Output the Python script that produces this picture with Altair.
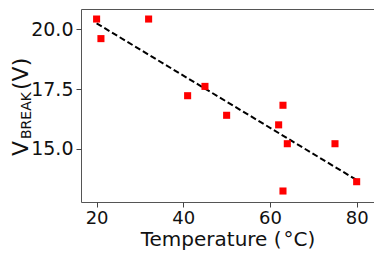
import altair as alt
import pandas as pd

temps = [20, 21, 32, 41, 45, 50, 62, 63, 64, 75, 80, 63]
vbreak = [20.43, 19.61, 20.43, 17.22, 17.61, 16.40, 16.00, 16.82, 15.21, 15.21, 13.62, 13.23]
fit_t = [20, 80]
fit_v = [20.25, 13.69]
x_ticks = [20, 40, 60, 80]
y_ticks = [15.0, 17.5, 20.0]
ylab_main = ["V"]
ylab_sub = ["BREAK"]
ylab_unit = ["(V)"]

pts = pd.DataFrame({"t": temps, "v": vbreak})
fit = pd.DataFrame({"t": fit_t, "v": fit_v})

FONT = "DejaVu Sans"
xs = alt.Scale(domain=[16.4, 84.0], nice=False, zero=False)
ys = alt.Scale(domain=[12.77, 20.85], nice=False, zero=False)

xax = alt.Axis(values=x_ticks, title="Temperature (\u200a\u00b0C)", grid=False,
               domain=False, tickColor="#444", tickSize=5, labelPadding=2,
               labelFontSize=18, titleFontSize=20, titleFont=FONT, labelFont=FONT,
               labelColor="#111", titleColor="#111", titleFontWeight="normal",
               titlePadding=2, format="d")
yax = alt.Axis(values=y_ticks, title=None, grid=False, domain=False,
               tickColor="#444", tickSize=5, labelPadding=3, labelFontSize=19,
               labelFont=FONT, labelColor="#111", format=".1f")

line = alt.Chart(fit).mark_line(color="black", strokeWidth=2, strokeDash=[6, 3]).encode(
    x=alt.X("t:Q", scale=xs, axis=xax),
    y=alt.Y("v:Q", scale=ys, axis=yax),
)
points = alt.Chart(pts).mark_square(color="#ff0000", opacity=1, size=50).encode(
    x=alt.X("t:Q", scale=xs),
    y=alt.Y("v:Q", scale=ys),
)

def ytext(vals, size, xpix, ypix):
    return alt.Chart(pd.DataFrame({"s": vals})).mark_text(
        angle=270, align="left", baseline="alphabetic", fontSize=size,
        font=FONT, color="#111").encode(
        x=alt.value(xpix), y=alt.value(ypix), text="s:N")

t1 = ytext(ylab_main, 22, -53, 147)
t2 = ytext(ylab_sub, 14, -50, 130)
t3 = ytext(ylab_unit, 22, -53, 81)

chart = alt.layer(line, points, t1, t2, t3).properties(
    width=293, height=193,
    autosize=alt.AutoSizeParams(type="none"),
    padding={"left": 73, "top": 1, "right": 0, "bottom": 49},
).configure_view(stroke="#555", strokeWidth=1)

chart.save("out.html", embed_options={"renderer": "svg", "actions": False})
